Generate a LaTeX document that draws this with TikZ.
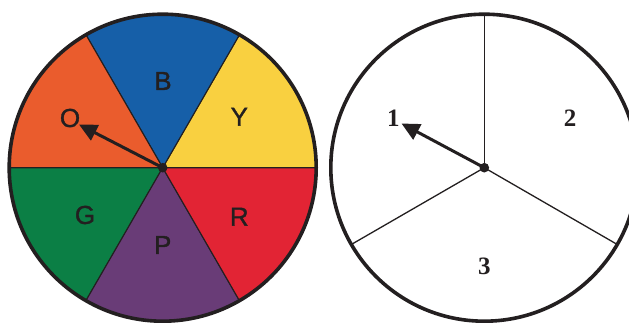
\documentclass[tikz,border=0pt]{standalone}
\usepackage{fontspec}
\setmainfont{Liberation Sans}
\newfontfamily\letterfont{Liberation Sans}[FakeBold=1.3]
\newfontfamily\numfont{Liberation Serif}
\usetikzlibrary{arrows.meta}
\definecolor{cO}{RGB}{234,92,45}
\definecolor{cB}{RGB}{22,95,168}
\definecolor{cY}{RGB}{249,208,64}
\definecolor{cR}{RGB}{226,36,52}
\definecolor{cP}{RGB}{105,60,119}
\definecolor{cG}{RGB}{11,127,69}
\definecolor{ink}{RGB}{35,31,32}
\tikzset{
  sector/.style={draw=ink, line width=1.1pt, line join=round},
  rim/.style={draw=ink, line width=3.6pt},
  divider/.style={draw=ink, line width=1.3pt},
  letter/.style={font=\letterfont\fontsize{26}{26}\selectfont, text=ink, inner sep=0pt},
  digit/.style={font=\numfont\bfseries\fontsize{25}{25}\selectfont, text=ink, inner sep=0pt},
  pointer/.style={draw=ink, line width=3pt, -{Triangle[length=18pt,width=17pt]}},
  hub/.style={fill=ink}
}
\begin{document}
\begin{tikzpicture}[x=1pt,y=1pt]
\clip (0,0) rectangle (629,322);
\fill[white] (0,0) rectangle (629,322);
\def\r{153.5}
% left spinner
\coordinate (Lc) at (162.7,154.3);
\foreach \a/\b/\c in {0/60/cY,60/120/cB,120/180/cO,180/240/cG,240/300/cP,300/360/cR}{
  \filldraw[sector, fill=\c] (Lc) -- ++(\a:\r) arc[start angle=\a, end angle=\b, radius=\r] -- cycle;
}
\draw[rim] (Lc) circle[radius=\r];
\node[letter] (B) at (163,241) {B};
\node[letter] (Y) at (239.3,205.3) {Y};
\node[letter] (O) at (70,204) {O};
\node[letter] (G) at (85,107) {G};
\node[letter] (R) at (239.3,105.3) {R};
\node[letter] (P) at (162.7,77) {P};
\coordinate (Ltip) at (79,197.5);
\draw[pointer] (Lc) -- (Ltip);
\fill[hub] (Lc) circle[radius=4.8];
% right spinner
\coordinate (Rc) at (484.3,154.3);
\draw[divider] (Rc) -- ++(90:\r);
\draw[divider] (Rc) -- ++(210:\r);
\draw[divider] (Rc) -- ++(330:\r);
\draw[rim] (Rc) circle[radius=\r];
\node[digit] (n1) at (393.3,203.7) {1};
\node[digit] (n2) at (570,203.7) {2};
\node[digit] (n3) at (484.3,55.3) {3};
\coordinate (Rtip) at (401.5,198.5);
\draw[pointer] (Rc) -- (Rtip);
\fill[hub] (Rc) circle[radius=4.8];
\end{tikzpicture}
\end{document}
